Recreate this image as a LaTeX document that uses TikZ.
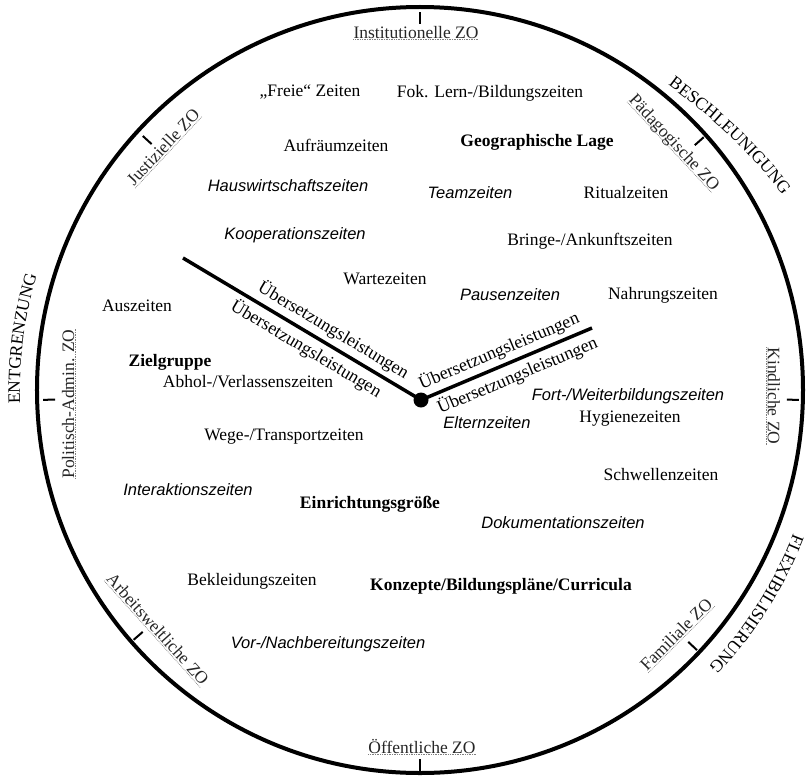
\documentclass[tikz,border=0pt]{standalone}
\usepackage{fontspec}
\setmainfont{Liberation Serif}
\newfontfamily\arialfont{Liberation Sans}
\usetikzlibrary{decorations.text}

\newcommand\trendfont{\fontsize{17.5}{21}\selectfont}

\tikzset{
  zeit/.style={font=\fontsize{17.5}{21}\selectfont, inner sep=1pt},
  zeitkursiv/.style={font=\arialfont\itshape\fontsize{16.5}{20}\selectfont, inner sep=1pt},
  zeitfett/.style={font=\bfseries\fontsize{17.5}{21}\selectfont, inner sep=1pt},
  zo/.style={font=\fontsize{17.5}{21}\selectfont, text=black!85, inner xsep=0pt, inner ysep=1.5pt, text depth=0pt},
  zostrich/.style={draw=gray, densely dotted, line width=0.7pt},
  zeiger/.style={line width=3.5pt},
  strich/.style={line width=2pt},
  leistung/.style={font=\fontsize{18}{21}\selectfont, inner sep=4pt, sloped},
  trend/.style={decorate, decoration={text along path, text align=left, text={|\trendfont|#1}}}
}

\begin{document}
\begin{tikzpicture}[x=1pt, y=1pt]
\useasboundingbox (-420,-387) rectangle (390,390);

% Zifferblatt
\draw[line width=4pt] (0,0) circle[radius=383];
\foreach \a/\r in {90/372, -90/375, 181.5/371, -1.5/373, 137.5/370, 41.7/374, 221.1/374, -43.2/374}
  \draw[strich] ({\a}:{\r-6}) -- ({\a}:{\r+6});

% Zeitordnungen
\node[zo] (zoInst) at (-4,358) {Institutionelle ZO};
\node[zo] (zoOeff) at (2,-356) {Öffentliche ZO};
\node[zo, rotate=47] (zoJust) at (-257,243) {Justizielle ZO};
\node[zo, rotate=-47] (zoPaed) at (255,248) {Pädagogische ZO};
\node[zo, rotate=90] (zoPol) at (-352,-14) {Politisch-Admin. ZO};
\node[zo, rotate=-90] (zoKind) at (354,-6) {Kindliche ZO};
\node[zo, rotate=-48] (zoArb) at (-262,-239) {Arbeitsweltliche ZO};
\node[zo, rotate=45] (zoFam) at (256,-244) {Familiale ZO};
\foreach \n in {zoInst, zoOeff, zoJust, zoPaed, zoPol, zoKind, zoArb, zoFam}
  \draw[zostrich] (\n.south west) -- (\n.south east);

% Tendenzen
\path[trend=BESCHLEUNIGUNG] (248,305) to[bend left=8] (376,178);
\path[trend=ENTGRENZUNG] (182:400) arc[start angle=182, end angle=140, radius=400];
\path[trend=FLEXIBILISIERUNG] (-21:400) arc[start angle=-21, end angle=-62, radius=400];

% Zeiten
\node[zeit] (freie) at (-110,298) {„Freie“ Zeiten};
\node[zeit] (fok) at (70,297) {Fok. Lern-/Bildungszeiten};
\node[zeit] (aufraeum) at (-84,245) {Aufräumzeiten};
\node[zeitfett] (geo) at (117,248) {Geographische Lage};
\node[zeitkursiv] (haus) at (-132,204) {Hauswirtschaftszeiten};
\node[zeitkursiv] (team) at (50,197) {Teamzeiten};
\node[zeit] (ritual) at (206,197) {Ritualzeiten};
\node[zeitkursiv] (koop) at (-125,155) {Kooperationszeiten};
\node[zeit] (bringe) at (170,149) {Bringe-/Ankunftszeiten};
\node[zeit] (warte) at (-35,111) {Wartezeiten};
\node[zeitkursiv] (pause) at (90,95) {Pausenzeiten};
\node[zeit] (nahrung) at (243,95) {Nahrungszeiten};
\node[zeit] (aus) at (-283,84) {Auszeiten};
\node[zeitfett] (ziel) at (-250,28) {Zielgruppe};
\node[zeit] (abhol) at (-172,8) {Abhol-/Verlassenszeiten};
\node[zeitkursiv] (fort) at (208,-6) {Fort-/Weiterbildungszeiten};
\node[zeitkursiv] (eltern) at (67,-33) {Elternzeiten};
\node[zeit] (hygiene) at (210,-29) {Hygienezeiten};
\node[zeit] (wege) at (-136,-47) {Wege-/Transportzeiten};
\node[zeit] (schwelle) at (241,-85) {Schwellenzeiten};
\node[zeitkursiv] (interakt) at (-232,-100) {Interaktionszeiten};
\node[zeitfett] (groesse) at (-50,-114) {Einrichtungsgröße};
\node[zeitkursiv] (doku) at (143,-133) {Dokumentationszeiten};
\node[zeit] (kleid) at (-168,-191) {Bekleidungszeiten};
\node[zeitfett] (konzept) at (81,-196) {Konzepte/Bildungspläne/Curricula};
\node[zeitkursiv] (vorbereit) at (-92,-254) {Vor-/Nachbereitungszeiten};

% Zeiger
\coordinate (mitte) at (1,-10);
\coordinate (zeigerA) at (-237,132);
\coordinate (zeigerB) at (172,62);
\draw[zeiger] (zeigerA) -- (mitte)
  node[leistung, pos=0.6, above] (uebA1) {Übersetzungsleistungen}
  node[leistung, pos=0.55, below] (uebA2) {Übersetzungsleistungen};
\draw[zeiger] (mitte) -- (zeigerB)
  node[leistung, pos=0.49, above] (uebB1) {Übersetzungsleistungen}
  node[leistung, pos=0.53, below] (uebB2) {Übersetzungsleistungen};
\node[circle, fill, inner sep=0pt, minimum size=15pt] (punkt) at (mitte) {};

\end{tikzpicture}
\end{document}
